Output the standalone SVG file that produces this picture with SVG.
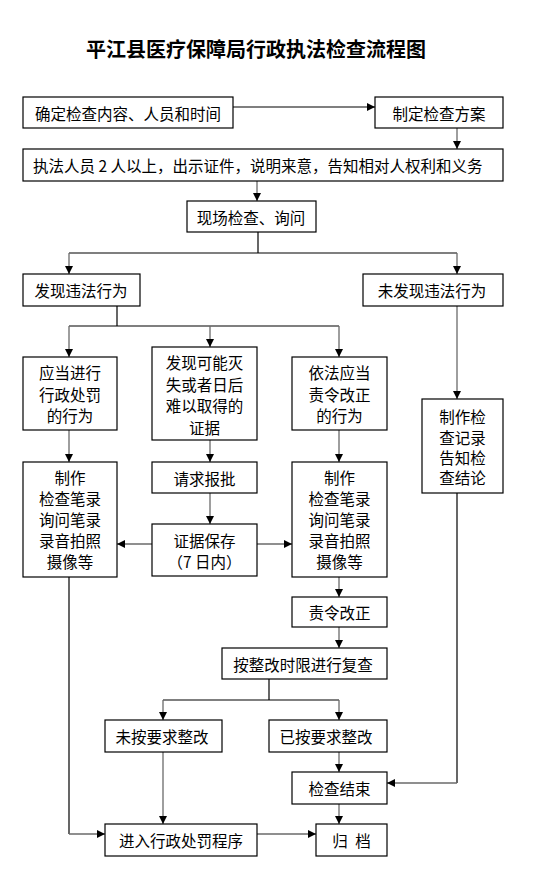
<svg xmlns="http://www.w3.org/2000/svg" width="535" height="892" viewBox="0 0 535 892">
<style>
.box{fill:#fff;stroke:#000;stroke-width:1.2}
.t{font-family:"Noto Sans CJK SC","Liberation Sans",sans-serif;font-size:15.5px;fill:#000;text-anchor:middle;dominant-baseline:central}
.title{font-family:"Noto Sans CJK SC","Liberation Sans",sans-serif;font-size:20px;font-weight:bold;fill:#000;text-anchor:middle;dominant-baseline:central}
.a{fill:none;stroke:#6a6a6a;stroke-width:1.3;marker-end:url(#ah)}
.ab{fill:none;stroke:#000;stroke-width:1.2;marker-end:url(#ah)}
.l{fill:none;stroke:#000;stroke-width:1.2}
</style>
<defs>
<marker id="ah" markerUnits="userSpaceOnUse" markerWidth="9" markerHeight="9" refX="8" refY="4" orient="auto">
<path d="M0,0 L8,4 L0,8 z" fill="#000"/>
</marker>
</defs>
<rect width="535" height="892" fill="#fff"/>
<text class="title" x="256" y="48">平江县医疗保障局行政执法检查流程图</text>

<g id="connectors">
<line class="ab" x1="233" y1="107" x2="375" y2="107"/>
<line class="a" x1="457" y1="128" x2="457" y2="149"/>
<line class="a" x1="257" y1="181" x2="257" y2="201"/>
<line class="l" x1="258" y1="232" x2="258" y2="253"/>
<line class="l" x1="69" y1="253" x2="457" y2="253"/>
<line class="a" x1="69" y1="253" x2="69" y2="274"/>
<line class="a" x1="457" y1="253" x2="457" y2="274"/>
<line class="l" x1="117" y1="306" x2="117" y2="326"/>
<line class="l" x1="69" y1="326" x2="339" y2="326"/>
<line class="a" x1="69" y1="326" x2="69" y2="357"/>
<line class="a" x1="210" y1="326" x2="210" y2="347"/>
<line class="a" x1="339" y1="326" x2="339" y2="357"/>
<line class="a" x1="457" y1="306" x2="457" y2="399"/>
<line class="a" x1="69" y1="430" x2="69" y2="462"/>
<line class="a" x1="210" y1="440" x2="210" y2="462"/>
<line class="a" x1="339" y1="430" x2="339" y2="462"/>
<line class="a" x1="210" y1="493" x2="210" y2="524"/>
<line class="a" x1="152" y1="544" x2="117" y2="544"/>
<line class="a" x1="257" y1="544" x2="292" y2="544"/>
<line class="a" x1="339" y1="577" x2="339" y2="597"/>
<line class="a" x1="339" y1="627" x2="339" y2="648"/>
<line class="l" x1="269" y1="679" x2="269" y2="700"/>
<line class="l" x1="163" y1="700" x2="339" y2="700"/>
<line class="a" x1="163" y1="700" x2="163" y2="720"/>
<line class="a" x1="339" y1="700" x2="339" y2="720"/>
<line class="a" x1="339" y1="752" x2="339" y2="772"/>
<line class="l" x1="457" y1="493" x2="457" y2="783"/>
<line class="a" x1="457" y1="783" x2="387" y2="783"/>
<line class="a" x1="339" y1="804" x2="339" y2="824"/>
<line class="a" x1="163" y1="752" x2="163" y2="824"/>
<line class="l" x1="69" y1="577" x2="69" y2="834"/>
<line class="a" x1="69" y1="834" x2="105" y2="834"/>
<line class="a" x1="257" y1="834" x2="316" y2="834"/>
</g>

<g id="n1"><rect class="box" x="23" y="97" width="210" height="31"/><text class="t" x="128" y="113">确定检查内容、人员和时间</text></g>
<g id="n2"><rect class="box" x="375" y="97" width="128" height="31"/><text class="t" x="439" y="113">制定检查方案</text></g>
<g id="n3"><rect class="box" x="23" y="149" width="480" height="32"/><text class="t" x="33" y="165" style="text-anchor:start">执法人员 2 人以上，出示证件，说明来意，告知相对人权利和义务</text></g>
<g id="n4"><rect class="box" x="187" y="201" width="129" height="31"/><text class="t" x="251" y="217">现场检查、询问</text></g>
<g id="n5"><rect class="box" x="23" y="274" width="117" height="32"/><text class="t" x="81" y="290">发现违法行为</text></g>
<g id="n6"><rect class="box" x="363" y="274" width="140" height="32"/><text class="t" x="432" y="290">未发现违法行为</text></g>
<g id="n7"><rect class="box" x="23" y="357" width="94" height="73"/><text class="t"><tspan x="70" y="372">应当进行</tspan><tspan x="70" y="393.5">行政处罚</tspan><tspan x="70" y="415">的行为</tspan></text></g>
<g id="n8"><rect class="box" x="152" y="347" width="105" height="93"/><text class="t"><tspan x="204.5" y="362">发现可能灭</tspan><tspan x="204.5" y="383.5">失或者日后</tspan><tspan x="204.5" y="405">难以取得的</tspan><tspan x="204.5" y="426.5">证据</tspan></text></g>
<g id="n9"><rect class="box" x="292" y="357" width="95" height="73"/><text class="t"><tspan x="339.5" y="372">依法应当</tspan><tspan x="339.5" y="393.5">责令改正</tspan><tspan x="339.5" y="415">的行为</tspan></text></g>
<g id="n10"><rect class="box" x="422" y="399" width="81" height="94"/><text class="t"><tspan x="462.5" y="415.5">制作检</tspan><tspan x="462.5" y="436.5">查记录</tspan><tspan x="462.5" y="457">告知检</tspan><tspan x="462.5" y="477">查结论</tspan></text></g>
<g id="n11"><rect class="box" x="23" y="462" width="94" height="115"/><text class="t"><tspan x="70" y="477">制作</tspan><tspan x="70" y="498">检查笔录</tspan><tspan x="70" y="519">询问笔录</tspan><tspan x="70" y="540">录音拍照</tspan><tspan x="70" y="561">摄像等</tspan></text></g>
<g id="n12"><rect class="box" x="152" y="462" width="105" height="31"/><text class="t" x="204.5" y="478">请求报批</text></g>
<g id="n13"><rect class="box" x="152" y="524" width="105" height="52"/><text class="t"><tspan x="204.5" y="540">证据保存</tspan><tspan x="204.5" y="561">（7 日内）</tspan></text></g>
<g id="n14"><rect class="box" x="292" y="462" width="95" height="115"/><text class="t"><tspan x="339.5" y="477">制作</tspan><tspan x="339.5" y="498">检查笔录</tspan><tspan x="339.5" y="519">询问笔录</tspan><tspan x="339.5" y="540">录音拍照</tspan><tspan x="339.5" y="561">摄像等</tspan></text></g>
<g id="n15"><rect class="box" x="292" y="597" width="95" height="30"/><text class="t" x="339.5" y="612">责令改正</text></g>
<g id="n16"><rect class="box" x="222" y="648" width="165" height="31"/><text class="t" x="303" y="664">按整改时限进行复查</text></g>
<g id="n17"><rect class="box" x="105" y="720" width="117" height="32"/><text class="t" x="162" y="736">未按要求整改</text></g>
<g id="n18"><rect class="box" x="269" y="720" width="118" height="32"/><text class="t" x="326" y="736">已按要求整改</text></g>
<g id="n19"><rect class="box" x="292" y="772" width="95" height="32"/><text class="t" x="339.5" y="788">检查结束</text></g>
<g id="n20"><rect class="box" x="105" y="824" width="152" height="32"/><text class="t" x="181" y="840">进入行政处罚程序</text></g>
<g id="n21"><rect class="box" x="316" y="824" width="71" height="32"/><text class="t" x="351.5" y="840" xml:space="preserve" style="word-spacing:4px">归 档</text></g>
</svg>
